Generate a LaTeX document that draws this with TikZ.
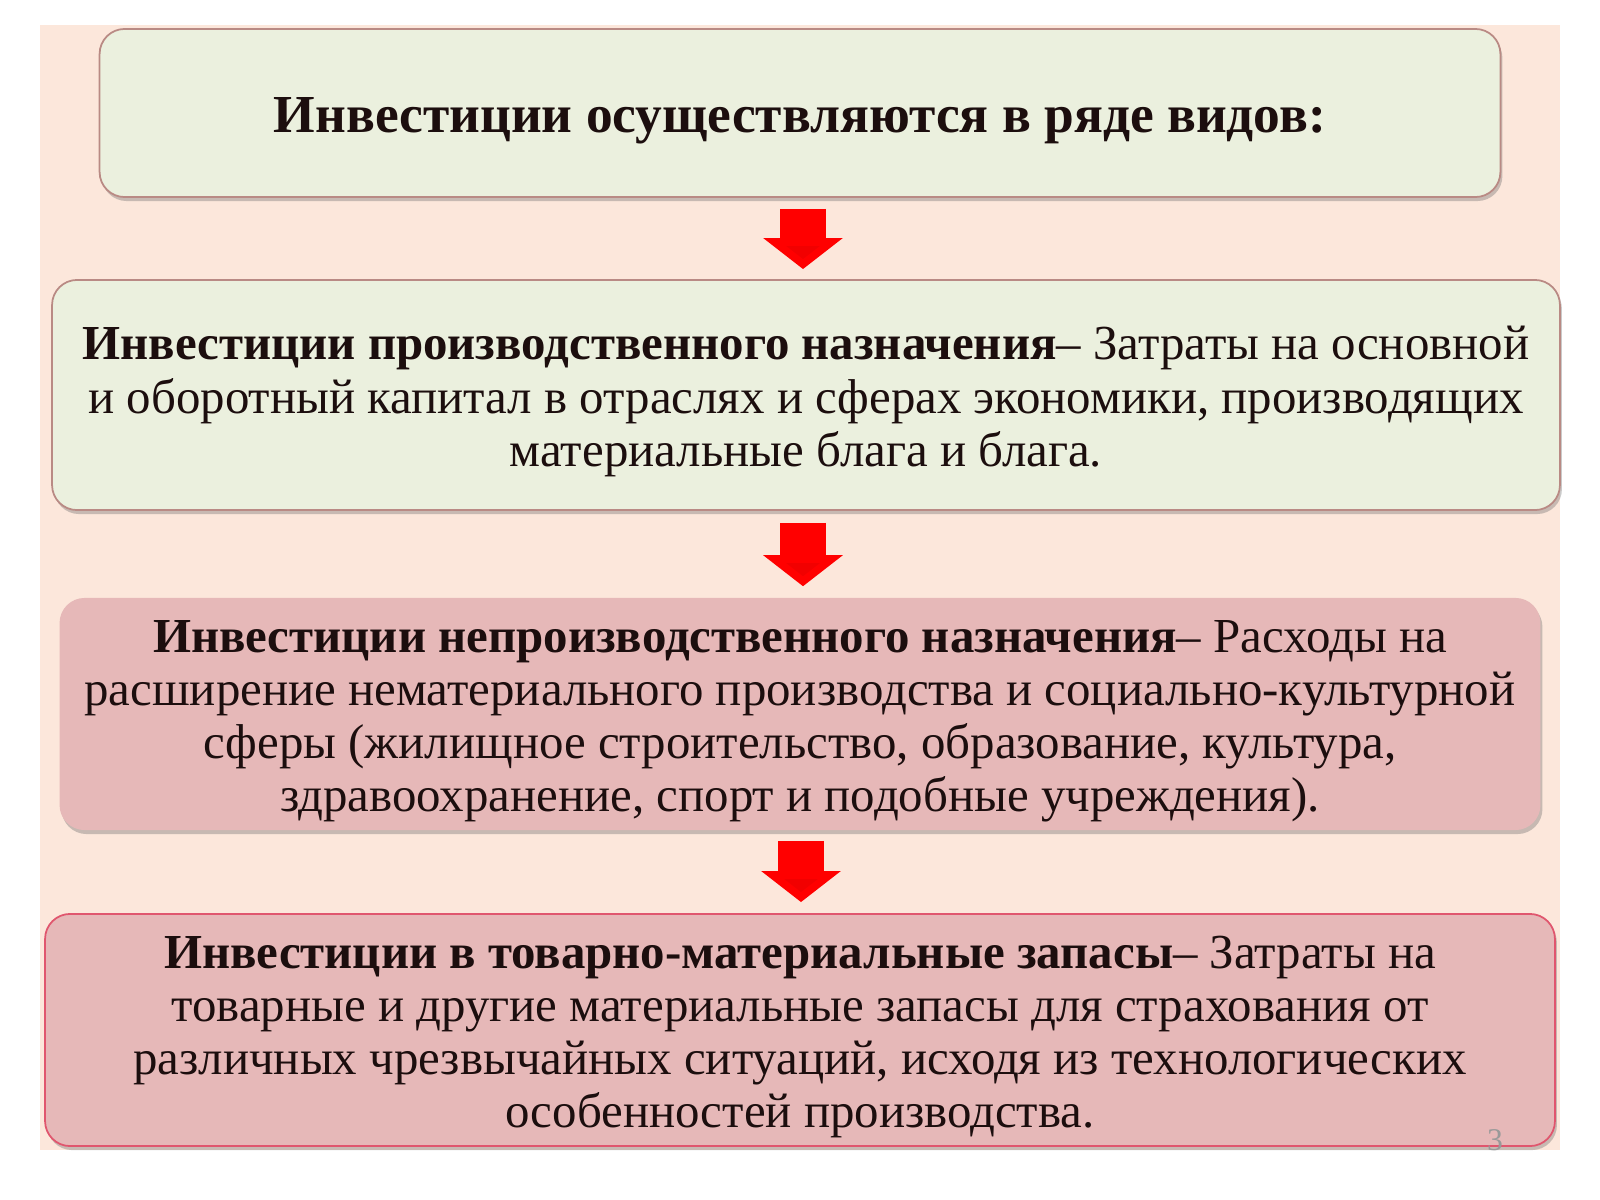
\documentclass[tikz,border=0pt]{standalone}
\usepackage{fontspec}
\setmainfont{Liberation Serif}
\usetikzlibrary{arrows.meta,shadows}

\definecolor{peach}{HTML}{FCE7DB}
\definecolor{cream}{HTML}{EBF0DE}
\definecolor{rose}{HTML}{E6B8B8}
\definecolor{edgebrown}{HTML}{B98A84}
\definecolor{edgered}{HTML}{E0566E}
\definecolor{ink}{HTML}{1C0E0E}

\newcommand{\lift}{\rule{0pt}{0.95em}}

\tikzset{
	kind/.style={rounded corners=0.25cm, align=center, text=ink, inner sep=0pt,
		font=\fontsize{13.9}{15.1}\selectfont,
		drop shadow={shadow xshift=0.02cm, shadow yshift=-0.04cm, opacity=0.35, fill=black!60}},
	greenbox/.style={kind, fill=cream, draw=edgebrown, line width=0.5pt},
	pinkbox/.style={kind, fill=rose},
	downarrow/.style={draw=red!85!black, line width=0.46cm,
		-{Triangle[width=0.78cm, length=0.31cm, fill=red!95!black]}, red}
}

\begin{document}
\begin{tikzpicture}[x=0.01cm, y=-0.01cm]
	\useasboundingbox (0,0) rectangle (1600,1200);
	\fill[peach] (40,25) rectangle (1560,1150);

	\node[greenbox, minimum width=14cm, minimum height=1.68cm] (top) at (800,113)
		{\fontsize{15.2}{18}\selectfont\bfseries\lift Инвестиции осуществляются в ряде видов:};

	\node[greenbox, minimum width=15.07cm, minimum height=2.3cm] (prod) at (806,395)
		{\lift\textbf{Инвестиции производственного назначения}– Затраты на основной\\
		и оборотный капитал в отраслях и сферах экономики, производящих\\
		материальные блага и блага.};

	\node[pinkbox, minimum width=14.8cm, minimum height=2.32cm] (nonprod) at (800,714)
		{\lift\textbf{Инвестиции непроизводственного назначения}– Расходы на\\
		расширение нематериального производства и социально-культурной\\
		сферы (жилищное строительство, образование, культура,\\
		здравоохранение, спорт и подобные учреждения).};

	\node[pinkbox, draw=edgered, line width=0.5pt, minimum width=15.09cm, minimum height=2.32cm] (stock) at (800,1030)
		{\lift\textbf{Инвестиции в товарно-материальные запасы}– Затраты на\\
		товарные и другие материальные запасы для страхования от\\
		различных чрезвычайных ситуаций, исходя из технологических\\
		особенностей производства.};

	\draw[downarrow] ([xshift=0.03cm, yshift=-0.11cm]top.south) -- ([xshift=0.03cm, yshift=0.1cm]top.south |- prod.north);
	\draw[downarrow] ([xshift=0.03cm, yshift=-0.12cm]nonprod.north |- prod.south) -- ([xshift=0.03cm, yshift=0.11cm]nonprod.north);
	\draw[downarrow] ([xshift=0.01cm, yshift=-0.1cm]nonprod.south) -- ([xshift=0.01cm, yshift=0.11cm]stock.north);

	\node[text=black!40, font=\fontsize{9}{11}\selectfont] (page) at (1495,1140) {3};
\end{tikzpicture}
\end{document}
